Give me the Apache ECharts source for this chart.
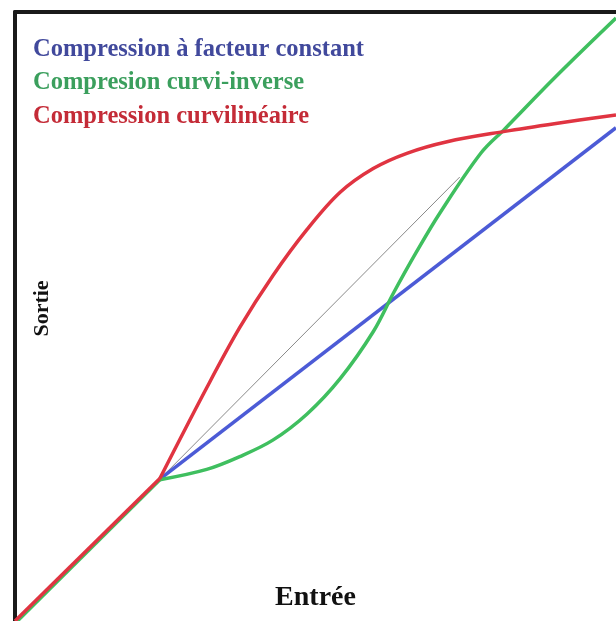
<!DOCTYPE html>
<html>
<head>
<meta charset="utf-8">
<script src="https://cdn.jsdelivr.net/npm/echarts@6/dist/echarts.min.js"></script>
<style>
  html, body { margin: 0; padding: 0; background: #fff; }
  #chart { width: 616px; height: 621px; }
</style>
</head>
<body>
<div id="chart"></div>
<script>
// Entrée / Sortie sur une échelle 0–100
const seriesNames = ['Compression à facteur constant', 'Compresion curvi-inverse', 'Compression curvilinéaire'];

// segments communs avant le coude
const redStart = [[0, 0], [24.1, 23.4]];
const greenStart = [[0.4, 0], [24.1, 23.2]];

// diagonale grise (référence 1:1)
const identityLine = [[24.1, 23.3], [74.0, 72.9]];

const constantData = [[24.1, 23.3], [100, 81.0]];

const curviInverseData = [
  [24.1, 23.2], [31.9, 24.9], [37.4, 27.0], [42.9, 29.7], [48.6, 34.0],
  [54.1, 39.8], [59.6, 47.5], [63.0, 53.9], [66.8, 60.6], [70.7, 67.0],
  [77.5, 76.8], [81.5, 80.8], [90, 89.4], [100, 99.0]
];

const curviLinearData = [
  [24.1, 23.4], [31.9, 38.3], [37.4, 48.2], [42.9, 56.7], [48.6, 64.3],
  [54.1, 70.4], [59.6, 74.3], [65.2, 76.8], [71.9, 78.7], [81.5, 80.4],
  [90, 81.7], [100, 83.1]
];

const lineColors = ['#4c5bd6', '#3fbf5f', '#e03441'];
const textColors = ['#41499c', '#3b9f5d', '#c42b37'];

const chart = echarts.init(document.getElementById('chart'));

const hiddenAxis = {
  type: 'value',
  min: 0,
  max: 100,
  axisTick: { show: false },
  axisLabel: { show: false },
  splitLine: { show: false }
};

const nameFont = {
  fontFamily: 'Liberation Serif',
  fontWeight: 'bold',
  color: '#111'
};

chart.setOption({
  animation: false,
  backgroundColor: '#fff',
  grid: { left: 15, right: 0, top: 12, bottom: 0 },
  legend: {
    orient: 'vertical',
    left: 23,
    top: 32,
    icon: 'none',
    itemWidth: 0,
    itemHeight: 0,
    itemGap: 8.5,
    selectedMode: false,
    textStyle: {
      fontFamily: 'Liberation Serif',
      fontWeight: 'bold',
      fontSize: 24.5,
      lineHeight: 25
    },
    data: seriesNames.map((name, i) => ({ name, textStyle: { color: textColors[i] } }))
  },
  xAxis: [
    {
      ...hiddenAxis,
      position: 'bottom',
      axisLine: { show: false },
      name: 'Entrée',
      nameLocation: 'middle',
      nameGap: -37,
      nameTextStyle: { ...nameFont, fontSize: 28 }
    },
    {
      ...hiddenAxis,
      position: 'top',
      axisLine: { show: true, onZero: false, lineStyle: { color: '#1a1a1a', width: 4 } }
    }
  ],
  yAxis: {
    ...hiddenAxis,
    axisLine: { show: true, lineStyle: { color: '#1a1a1a', width: 4 } },
    name: 'Sortie',
    nameLocation: 'middle',
    nameRotate: 90,
    nameGap: -38,
    nameTextStyle: { ...nameFont, fontSize: 22, padding: [0, 0, 0, 16] }
  },
  series: [
    {
      type: 'line',
      data: identityLine,
      symbol: 'none',
      lineStyle: { color: '#8a8a8a', width: 1 }
    },
    {
      name: seriesNames[0],
      type: 'line',
      data: constantData,
      symbol: 'none',
      color: lineColors[0],
      lineStyle: { color: lineColors[0], width: 3.5 }
    },
    {
      name: seriesNames[1],
      type: 'line',
      data: curviInverseData,
      smooth: 0.35,
      symbol: 'none',
      color: lineColors[1],
      lineStyle: { color: lineColors[1], width: 3.5 }
    },
    {
      type: 'line',
      data: greenStart,
      symbol: 'none',
      lineStyle: { color: lineColors[1], width: 3.5 }
    },
    {
      name: seriesNames[2],
      type: 'line',
      data: curviLinearData,
      smooth: 0.35,
      symbol: 'none',
      color: lineColors[2],
      lineStyle: { color: lineColors[2], width: 3.5 }
    },
    {
      type: 'line',
      data: redStart,
      symbol: 'none',
      lineStyle: { color: lineColors[2], width: 3.5 }
    }
  ]
});
</script>
</body>
</html>
